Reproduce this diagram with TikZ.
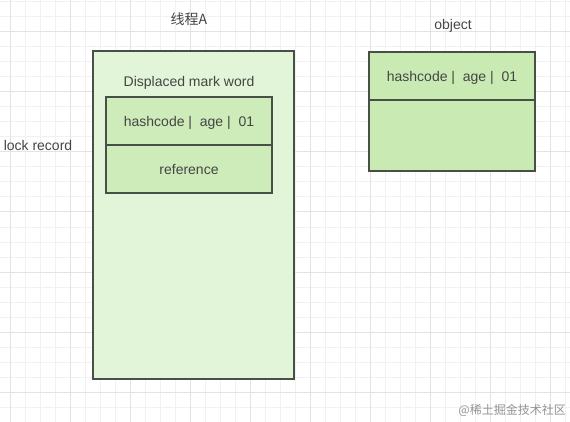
\documentclass[tikz,border=0pt]{standalone}
\usepackage{fontspec}
\setmainfont{Liberation Sans}
\newfontfamily\cjk{Noto Sans CJK SC}
\usepackage{xcolor}
\usetikzlibrary{positioning}

\definecolor{gridminor}{HTML}{F1F1F1}
\definecolor{gridmajor}{HTML}{E3E3E3}
\definecolor{edgegray}{HTML}{465046}
\definecolor{threadfill}{HTML}{E3F5D8}
\definecolor{cellfill}{HTML}{CDECB9}
\definecolor{objfill}{HTML}{C9EBB3}
\definecolor{txtgray}{HTML}{454545}

\tikzset{
  txt/.style={inner sep=0pt,text=txtgray,font=\fontsize{14}{16}\selectfont,text height=13pt,text depth=1pt},
  cell/.style={draw=edgegray,line width=1.5pt,fill=cellfill,minimum width=166pt,minimum height=48pt,inner sep=0pt,outer sep=0pt,txt},
}

\begin{document}
\begin{tikzpicture}[x=1pt,y=-1pt,node distance=0pt]
\useasboundingbox (0,0) rectangle (570,422);
\fill[white] (0,0) rectangle (570,422);
% grid
\foreach \gx in {10,25,...,565} \draw[gridminor,line width=1pt] (\gx,0) -- (\gx,422);
\foreach \gy in {2,17,...,417} \draw[gridminor,line width=1pt] (0,\gy) -- (570,\gy);
\foreach \gx in {10,70,...,550} \draw[gridmajor,line width=1pt] (\gx,0) -- (\gx,422);
\foreach \gy in {32,92,...,392} \draw[gridmajor,line width=1pt] (0,\gy) -- (570,\gy);

% thread A
\node[draw=edgegray,line width=1.5pt,fill=threadfill,minimum width=201pt,minimum height=328pt,inner sep=0pt] (thread) at (193.5,215) {};
\node[txt] (threadlbl) at (189,19) {\cjk 线程A};
\node[txt] (dmw) at (189,81) {Displaced mark word};
\node[cell] (dhash) at (189,121) {hashcode |\ \ age |\ \ 01};
\node[cell,below=of dhash] (dref) {reference};
\node[txt] (lockrec) at (38,145) {lock record};

% object
\node[txt] (objlbl) at (453,24) {object};
\node[cell,fill=objfill] (ohash) at (452,76) {hashcode |\ \ age |\ \ 01};
\node[cell,fill=objfill,minimum height=71pt,below=of ohash] (obody) {};

% watermark
\node[inner sep=0pt,anchor=east,text=gray!85,font=\cjk\fontsize{12}{14}\selectfont] (mark) at (566,410) {@稀土掘金技术社区};
\end{tikzpicture}
\end{document}
